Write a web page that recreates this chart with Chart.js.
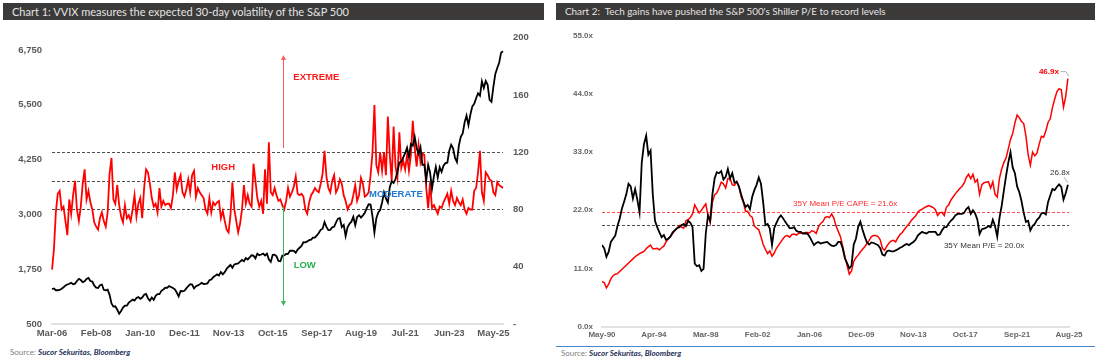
<!DOCTYPE html>
<html lang="en">
<head>
<meta charset="UTF-8">
<title>VVIX and Shiller P/E</title>
<script src="https://cdn.jsdelivr.net/npm/chart.js"></script>
<style>
  body { margin:0; width:1102px; height:360px; background:#fff; position:relative; overflow:hidden; font-family: Lato, "Liberation Sans", sans-serif; }
  .bar { position:absolute; top:3px; height:17px; background:#3b3a39; color:#e4e4e4; font-size:11px; line-height:17px; padding-left:9px; box-sizing:border-box; white-space:nowrap; }
  .box { position:absolute; top:22px; }
  .src { position:absolute; font-size:8px; color:#808080; white-space:nowrap; }
  .src b { color:#1f2f5a; font-style:italic; }
</style>
</head>
<body>
<div class="bar" style="left:3px;width:541px">Chart 1: VVIX measures the expected 30-day volatility of the S&amp;P 500</div>
<div class="bar" style="left:556px;width:539px;font-size:9.9px">Chart 2:&nbsp; Tech gains have pushed the S&amp;P 500's Shiller P/E to record levels</div>
<div class="box" style="left:0"><canvas id="vvixChart" width="550" height="318"></canvas></div>
<div class="box" style="left:550px"><canvas id="capeChart" width="552" height="322"></canvas></div>
<div style="position:absolute;left:556px;top:346px;width:539px;height:1px;background:#4a86c8"></div>
<div class="src" style="left:10px;top:347px">Source: <b>Sucor Sekuritas, Bloomberg</b></div>
<div class="src" style="left:561px;top:348px">Source: <b>Sucor Sekuritas, Bloomberg</b></div>

<script>
// ---- Chart 1 data (monthly, Mar-06 .. Oct-25) ----
const startYear1 = 2006, startMonth1 = 2;   // March
const spx = [
  1295, 1311, 1270, 1270, 1277, 1304, 1336, 1378, 1401, 1418,
  1438, 1407, 1421, 1482, 1531, 1503, 1455, 1474, 1527, 1549, 1481, 1468,
  1379, 1331, 1323, 1386, 1400, 1280, 1267, 1283, 1165, 969, 896, 903,
  826, 735, 798, 873, 919, 919, 987, 1021, 1057, 1036, 1096, 1115,
  1074, 1104, 1169, 1187, 1089, 1031, 1102, 1049, 1141, 1183, 1181, 1258,
  1286, 1327, 1326, 1364, 1345, 1321, 1292, 1219, 1131, 1253, 1247, 1258,
  1312, 1366, 1408, 1398, 1310, 1362, 1379, 1407, 1441, 1412, 1416, 1426,
  1498, 1515, 1569, 1598, 1631, 1606, 1686, 1633, 1682, 1757, 1806, 1848,
  1783, 1859, 1872, 1884, 1924, 1960, 1931, 2003, 1972, 2018, 2068, 2059,
  1995, 2105, 2068, 2086, 2107, 2063, 2104, 1972, 1920, 2079, 2080, 2044,
  1940, 1932, 2060, 2065, 2097, 2099, 2174, 2171, 2168, 2126, 2199, 2239,
  2279, 2364, 2363, 2384, 2412, 2423, 2470, 2472, 2519, 2575, 2648, 2674,
  2824, 2714, 2641, 2648, 2705, 2718, 2816, 2902, 2914, 2712, 2760, 2507,
  2704, 2784, 2834, 2946, 2752, 2942, 2980, 2926, 2977, 3038, 3141, 3231,
  3226, 2954, 2585, 2912, 3044, 3100, 3271, 3500, 3363, 3270, 3622, 3756,
  3714, 3811, 3973, 4181, 4204, 4298, 4395, 4523, 4308, 4605, 4567, 4766,
  4516, 4374, 4530, 4132, 4132, 3785, 4130, 3955, 3586, 3872, 4080, 3840,
  4077, 3970, 4109, 4169, 4180, 4450, 4589, 4508, 4288, 4194, 4568, 4770,
  4846, 5096, 5254, 5036, 5278, 5460, 5522, 5648, 5762, 5705, 6032, 5882,
  6041, 5955, 5612, 5569, 5912, 6205, 6339, 6460, 6688, 6720
];
const vvix = [
  38, 52, 78, 91, 93, 80, 82, 72, 62, 87,
  77, 90, 100, 80, 72, 82, 98, 108, 87, 93,
  85, 80, 71, 68, 66, 74, 78, 72, 68, 78,
  105, 116, 87, 84, 97, 83, 75, 71, 83, 74,
  76, 72, 80, 90, 75, 84, 88, 74, 95, 108,
  106, 98, 88, 82, 84, 78, 95, 82, 86, 83,
  84, 84, 81, 90, 106, 94, 100, 104, 92, 89,
  94, 101, 92, 104, 107, 89, 95, 92, 90, 88,
  80, 77, 88, 78, 85, 83, 85, 86, 74, 79,
  72, 66, 64, 76, 99, 80, 72, 64, 70, 80,
  97, 84, 90, 84, 82, 112, 100, 88, 82, 86,
  77, 108, 84, 127, 92, 90, 95, 90, 86, 87,
  83, 80, 86, 95, 89, 92, 96, 103, 91, 90,
  91, 89, 80, 77, 85, 90, 92, 95, 93, 92,
  98, 105, 121, 103, 95, 92, 100, 104, 92, 95,
  101, 98, 90, 86, 80, 83, 84, 90, 97, 86,
  90, 102, 98, 89, 90, 92, 104, 120, 153, 111,
  106, 120, 107, 120, 104, 145, 118, 100, 138, 110,
  102, 134, 109, 114, 108, 118, 107, 118, 142, 123,
  110, 125, 113, 119, 118, 95, 81, 99, 81, 83,
  80, 77, 82, 81, 85, 88, 91, 84, 93, 86,
  83, 88, 85, 83, 87, 80, 77, 81, 80, 80,
  93, 95, 106, 121, 92, 86, 106, 104, 101, 100,
  92, 90, 99, 97, 96, 95
];
const xTicks1 = ['Mar-06', 'Feb-08', 'Jan-10', 'Dec-11', 'Nov-13', 'Oct-15', 'Sep-17', 'Aug-19', 'Jul-21', 'Jun-23', 'May-25'];
const spxTicks = [500, 1750, 3000, 4250, 5500, 6750];
const vvixTicks = [0, 40, 80, 120, 160, 200];
const zoneLines = [80, 100, 120];

// ---- Chart 2 data (every 2 months from May-90) ----
const monthStep2 = 2;
const xTicks2 = ['May-90', 'Apr-94', 'Mar-98', 'Feb-02', 'Jan-06', 'Dec-09', 'Nov-13', 'Oct-17', 'Sep-21', 'Aug-25'];
const peRatio = [
  15.4, 14.8, 13.2, 14.1, 16.0, 16.6, 17.2, 19.0, 20.4, 22.3,
  23.6, 25.0, 27.0, 26.5, 24.2, 26.0, 24.0, 21.6, 31.0, 34.5,
  36.1, 32.5, 33.3, 25.0, 20.0, 18.8, 17.8, 16.9, 17.3, 16.4,
  16.6, 17.0, 17.8, 18.2, 18.6, 18.8, 19.2, 19.4, 19.0, 20.0,
  19.6, 18.8, 11.9, 11.4, 11.6, 10.5, 10.9, 17.6, 21.0, 20.0,
  25.0, 28.0, 29.2, 29.0, 29.4, 27.8, 28.3, 29.8, 28.0, 29.0,
  27.2, 27.4, 26.5, 25.0, 23.7, 22.6, 23.0, 22.2, 24.5, 25.8,
  26.8, 28.2, 27.0, 23.5, 19.2, 19.4, 18.5, 15.4, 18.6, 19.6,
  20.5, 21.0, 20.5, 19.8, 19.2, 18.6, 18.6, 18.8, 18.1, 17.9,
  17.9, 17.6, 17.6, 17.6, 17.0, 16.2, 15.4, 15.8, 16.0, 15.7,
  15.8, 15.9, 16.0, 15.6, 15.3, 15.2, 15.4, 16.0, 16.0, 14.8,
  12.9, 12.0, 11.0, 11.5, 15.5, 16.6, 18.8, 19.8, 18.3, 17.0,
  15.9, 15.5, 15.9, 15.8, 15.6, 15.4, 14.8, 13.6, 13.4, 14.2,
  14.4, 14.2, 14.2, 14.4, 14.6, 14.9, 15.1, 15.4, 15.6, 15.4,
  15.7, 16.0, 16.4, 17.2, 17.6, 17.9, 17.7, 17.6, 17.9, 17.9,
  17.9, 17.9, 17.3, 17.4, 18.2, 18.8, 18.8, 19.5, 20.0, 20.4,
  21.0, 21.3, 21.3, 21.3, 21.5, 22.2, 22.6, 21.3, 22.0, 21.4,
  20.2, 17.5, 18.4, 18.5, 18.7, 19.0, 18.8, 20.2, 19.0, 17.0,
  20.5, 22.8, 25.7, 28.5, 31.0, 33.0, 30.1, 29.0, 26.5, 25.4,
  23.7, 21.5, 19.8, 20.0, 18.2, 19.0, 19.4, 20.2, 20.6, 21.4,
  21.5, 21.2, 23.5, 24.8, 26.0, 25.8, 26.4, 26.9, 26.4, 24.0,
  25.2, 26.8
];
const capeRatio = [
  8.5, 8.3, 7.3, 8.0, 9.0, 9.6, 9.9, 10.0, 10.4, 10.8,
  11.2, 11.6, 12.0, 12.4, 12.8, 13.2, 13.5, 13.8, 14.0, 14.2,
  14.7, 15.1, 15.4, 14.7, 14.7, 14.8, 14.5, 14.9, 15.2, 16.0,
  16.6, 17.1, 17.6, 18.2, 18.6, 19.1, 18.8, 18.6, 20.0, 20.2,
  20.6, 21.3, 23.0, 22.2, 21.5, 22.0, 22.6, 23.2, 21.0, 19.6,
  23.5, 24.9, 25.3, 26.2, 27.3, 27.0, 26.2, 28.0, 28.0, 26.8,
  26.7, 27.4, 26.5, 24.6, 23.5, 21.8, 21.8, 21.0, 20.7, 19.0,
  18.6, 18.3, 17.0, 15.5, 14.6, 13.8, 14.3, 13.3, 13.9, 14.8,
  15.4, 16.0, 16.6, 17.1, 17.2, 16.9, 17.4, 17.5, 17.3, 17.6,
  17.7, 17.6, 17.8, 17.8, 17.7, 18.1, 18.0, 17.6, 18.8, 19.5,
  19.8, 20.6, 20.8, 20.6, 21.3, 20.5, 19.0, 18.0, 17.0, 15.2,
  13.2, 11.6, 9.9, 10.5, 12.3, 13.0, 13.5, 14.1, 14.6, 15.1,
  15.7, 16.3, 17.0, 17.2, 17.2, 17.0, 16.4, 14.8, 14.4, 15.2,
  15.8, 16.2, 16.3, 16.0, 16.8, 17.4, 17.8, 18.4, 18.9, 19.4,
  20.0, 20.5, 20.9, 21.6, 22.0, 22.2, 22.5, 22.7, 22.9, 22.7,
  22.5, 22.1, 21.0, 21.5, 21.6, 21.0, 22.6, 23.0, 23.9, 24.5,
  25.1, 25.6, 26.1, 26.5, 27.1, 28.2, 28.8, 28.0, 28.8, 27.3,
  27.8, 25.0, 26.8, 27.2, 27.3, 27.4, 26.2, 27.4, 25.0, 24.5,
  28.0, 29.8, 31.0, 31.9, 33.6, 35.4, 36.5, 38.5, 40.0, 39.5,
  38.8, 38.4, 36.0, 32.5, 30.5, 33.0, 32.3, 32.8, 34.5, 36.0,
  35.8, 37.0, 38.6, 39.3, 41.4, 43.0, 44.4, 45.0, 44.8, 41.5,
  43.5, 46.9
];
const capeMean = 21.6;
const peMeanLine = 19.2;

// ---- helpers ----
const monthNames = ['Jan', 'Feb', 'Mar', 'Apr', 'May', 'Jun', 'Jul', 'Aug', 'Sep', 'Oct', 'Nov', 'Dec'];
function monthLabels(year, month, n) {
  const out = [];
  for (let i = 0; i < n; i++) {
    const m = month + i;
    const yy = year + Math.floor(m / 12);
    out.push(monthNames[m % 12] + '-' + String(yy % 100).padStart(2, '0'));
  }
  return out;
}
const labels1 = monthLabels(startYear1, startMonth1, spx.length);
const tickFont = { family: '"Liberation Sans", Arial, sans-serif', size: 9.5, weight: 'bold' };
const tickFont2 = { family: '"Liberation Sans", Arial, sans-serif', size: 8, weight: 'bold' };

function arrow(ctx, x, y0, y1, color) {
  const dir = y1 < y0 ? -1 : 1;
  ctx.strokeStyle = color;
  ctx.fillStyle = color;
  ctx.lineWidth = 1;
  ctx.beginPath(); ctx.moveTo(x, y0); ctx.lineTo(x, y1 - dir * 4); ctx.stroke();
  ctx.beginPath(); ctx.moveTo(x, y1); ctx.lineTo(x - 2.5, y1 - dir * 5); ctx.lineTo(x + 2.5, y1 - dir * 5); ctx.closePath(); ctx.fill();
}

// annotations for chart 1 (month index, VVIX level)
const zoneText = [
  { text: 'EXTREME', at: 137.7, level: 172, color: '#ff1a1a' },
  { text: 'HIGH', at: 89.2, level: 109.5, color: '#ff1a1a' },
  { text: 'MODERATE', at: 179.2, level: 90.7, color: '#1f78d1' },
  { text: 'LOW', at: 131.7, level: 41.2, color: '#27b04f' }
];

const vvixNotes = {
  id: 'vvixNotes',
  beforeDatasetsDraw(chart) {
    const { ctx, chartArea: a, scales: { y1 } } = chart;
    ctx.save();
    ctx.setLineDash([3, 2]);
    ctx.strokeStyle = '#4d4d4d';
    ctx.lineWidth = 1;
    zoneLines.forEach(v => {
      const py = Math.round(y1.getPixelForValue(v)) + 0.5;
      ctx.beginPath(); ctx.moveTo(a.left, py); ctx.lineTo(a.right, py); ctx.stroke();
    });
    ctx.restore();
  },
  afterDatasetsDraw(chart) {
    const { ctx, scales: { x, y1 } } = chart;
    ctx.save();
    const ax = Math.round(x.getPixelForValue(120.5)) + 0.5;
    arrow(ctx, ax, y1.getPixelForValue(123), y1.getPixelForValue(188), '#ff5a5a');
    arrow(ctx, ax, y1.getPixelForValue(82), y1.getPixelForValue(12.5), '#3cb560');
    ctx.font = 'bold 9.5px "Liberation Sans", Arial, sans-serif';
    ctx.textAlign = 'center';
    ctx.textBaseline = 'middle';
    zoneText.forEach(t => {
      ctx.fillStyle = t.color;
      ctx.fillText(t.text, x.getPixelForValue(t.at), y1.getPixelForValue(t.level));
    });
    ctx.restore();
  }
};

new Chart(document.getElementById('vvixChart'), {
  type: 'line',
  data: {
    labels: labels1,
    datasets: [
      { label: 'S&P 500', data: spx, yAxisID: 'y', borderColor: '#000', borderWidth: 1.8, pointRadius: 0, tension: 0 },
      { label: 'VVIX', data: vvix, yAxisID: 'y1', borderColor: '#ff0000', borderWidth: 1.8, pointRadius: 0, tension: 0 }
    ]
  },
  options: {
    responsive: false,
    animation: false,
    events: [],
    layout: { padding: { top: 15, left: 0, right: 0, bottom: 0 } },
    plugins: { legend: { display: false }, tooltip: { enabled: false } },
    scales: {
      x: {
        grid: { display: false, drawTicks: false },
        border: { display: true, color: '#e2e2e2', width: 2 },
        afterFit: s => { s.height = 16; },
        ticks: {
          autoSkip: false, maxRotation: 0, minRotation: 0, padding: 4,
          color: '#595959', font: tickFont,
          callback: function (v) { const l = this.getLabelForValue(v); return xTicks1.includes(l) ? l : null; }
        }
      },
      y: {
        position: 'left', min: 500, max: 7030,
        grid: { display: false, drawTicks: false },
        border: { display: false },
        afterFit: s => { s.width = 52; },
        afterBuildTicks: s => { s.ticks = spxTicks.map(v => ({ value: v })); },
        ticks: { padding: 10, color: '#595959', font: tickFont, callback: v => v.toLocaleString('en-US') }
      },
      y1: {
        position: 'right', min: 0, max: 200,
        grid: { display: false, drawTicks: false },
        border: { display: false },
        afterFit: s => { s.width = 47; },
        afterBuildTicks: s => { s.ticks = vvixTicks.map(v => ({ value: v })); },
        ticks: { padding: 10, color: '#595959', font: tickFont, callback: v => v === 0 ? '-' : v }
      }
    }
  },
  plugins: [vvixNotes]
});

// ---- Chart 2 ----
const capeNotes = {
  id: 'capeNotes',
  beforeDatasetsDraw(chart) {
    const { ctx, chartArea: a, scales: { y } } = chart;
    ctx.save();
    ctx.setLineDash([3, 2]);
    ctx.lineWidth = 1;
    [[capeMean, '#ff4d4d'], [peMeanLine, '#4d4d4d']].forEach(([v, c]) => {
      const py = Math.round(y.getPixelForValue(v)) + 0.5;
      ctx.strokeStyle = c;
      ctx.beginPath(); ctx.moveTo(a.left, py); ctx.lineTo(a.right, py); ctx.stroke();
    });
    ctx.restore();
  },
  afterDatasetsDraw(chart) {
    const { ctx, scales: { x, y } } = chart;
    ctx.save();
    ctx.font = '8px "Liberation Sans", Arial, sans-serif';
    ctx.textBaseline = 'middle';
    ctx.textAlign = 'left';
    ctx.fillStyle = '#ff2a2a';
    ctx.fillText('35Y Mean P/E CAPE = ' + capeMean.toFixed(1) + 'x', x.getPixelForValue(173), y.getPixelForValue(23.3));
    ctx.fillStyle = '#333';
    ctx.fillText('35Y Mean P/E = 20.0x', x.getPixelForValue(309.7), y.getPixelForValue(15.2));

    const redEnd = chart.getDatasetMeta(1).data.at(-1);
    const blkEnd = chart.getDatasetMeta(0).data.at(-1);
    ctx.strokeStyle = '#9a9a9a';
    ctx.lineWidth = 0.8;
    ctx.beginPath();
    ctx.moveTo(redEnd.x - 7, redEnd.y - 7); ctx.lineTo(redEnd.x - 2, redEnd.y - 7); ctx.lineTo(redEnd.x + 1, redEnd.y - 2);
    ctx.moveTo(blkEnd.x - 4, blkEnd.y - 8); ctx.lineTo(blkEnd.x, blkEnd.y - 2);
    ctx.stroke();
    ctx.textAlign = 'right';
    ctx.font = 'bold 8px "Liberation Sans", Arial, sans-serif';
    ctx.fillStyle = '#ff0000';
    ctx.fillText(capeRatio.at(-1).toFixed(1) + 'x', redEnd.x - 9, redEnd.y - 7);
    ctx.font = '8px "Liberation Sans", Arial, sans-serif';
    ctx.fillStyle = '#333';
    ctx.textAlign = 'center';
    ctx.fillText(peRatio.at(-1).toFixed(1) + 'x', blkEnd.x - 8, blkEnd.y - 12);
    ctx.restore();
  }
};

new Chart(document.getElementById('capeChart'), {
  type: 'line',
  data: {
    datasets: [
      { label: 'P/E', data: peRatio.map((v, i) => ({ x: i * monthStep2, y: v })), borderColor: '#000', borderWidth: 1.8, pointRadius: 0, tension: 0 },
      { label: 'Shiller CAPE', data: capeRatio.map((v, i) => ({ x: i * monthStep2, y: v })), borderColor: '#ff0000', borderWidth: 1.5, pointRadius: 0, tension: 0 }
    ]
  },
  options: {
    responsive: false,
    animation: false,
    events: [],
    layout: { padding: { top: 13, left: 0, right: 33, bottom: 0 } },
    plugins: { legend: { display: false }, tooltip: { enabled: false } },
    scales: {
      x: {
        type: 'linear', min: 0, max: 423,
        grid: { display: false, drawTicks: false },
        border: { display: true, color: '#e2e2e2', width: 2 },
        afterFit: s => { s.height = 17.5; },
        afterBuildTicks: s => { s.ticks = xTicks2.map((t, i) => ({ value: i * 47 })); },
        ticks: { autoSkip: false, maxRotation: 0, padding: 3, color: '#666', font: tickFont2, callback: (v, i) => xTicks2[i] }
      },
      y: {
        min: 0, max: 55,
        grid: { display: false, drawTicks: false },
        border: { display: false },
        afterFit: s => { s.width = 52; },
        ticks: { stepSize: 11, padding: 9, color: '#666', font: tickFont2, callback: v => v.toFixed(1) + 'x' }
      }
    }
  },
  plugins: [capeNotes]
});
</script>
</body>
</html>
